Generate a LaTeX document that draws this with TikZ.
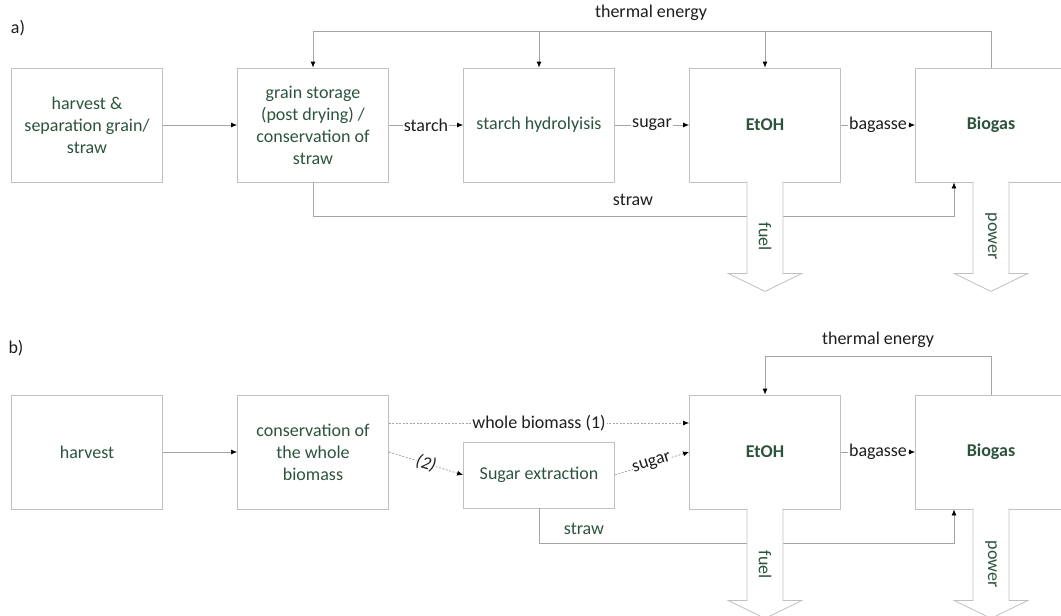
\documentclass[tikz,border=0pt]{standalone}
\usepackage{fontspec}
\setmainfont{Carlito}
\usetikzlibrary{arrows.meta, positioning, calc}
\definecolor{mygreen}{RGB}{44, 84, 60}
\definecolor{mygray}{RGB}{165, 165, 165}
\definecolor{myboxgray}{RGB}{192, 192, 192}
\definecolor{myblack}{RGB}{30, 30, 30}

\begin{document}
\begin{tikzpicture}[x=1pt, y=-1pt,
    font=\fontsize{18}{22}\selectfont,
    box/.style={rectangle, draw=myboxgray, line width=0.8pt, minimum width=151pt, minimum height=114pt, align=center, text=mygreen, inner sep=2pt},
    boldbox/.style={box, font=\fontsize{18}{22}\selectfont\bfseries},
    conn/.style={draw=mygray, line width=0.8pt, -{Latex[length=6pt, width=5pt, black]}},
    dconn/.style={conn, dash pattern=on 2pt off 1.5pt},
    lbl/.style={fill=white, inner sep=1pt, text=myblack},
    bigarrow/.style={draw=myboxgray, fill=white, line width=0.8pt, line join=miter}]
    \useasboundingbox (0,0) rectangle (1061,616);

    % a)
    \node[lbl] (la) at (18, 28) {a)};
    \node[box] (a1) at (87, 125) {harvest \&\\separation grain/\\straw};
    \node[box] (a2) at (313, 125) {grain storage\\(post drying) /\\conservation of\\straw};
    \node[box] (a3) at (539, 125) {starch hydrolyisis};
    \node[boldbox] (a4) at (765, 125) {EtOH};
    \node[boldbox] (a5) at (991, 125) {Biogas};

    \draw[conn] (a1) -- (a2);
    \draw[conn] (a2) -- node[lbl] {starch} (a3);
    \draw[conn] (a3) -- node[lbl] {sugar} (a4);
    \draw[conn] (a4) -- node[lbl] {bagasse} (a5);

    % thermal energy
    \draw[conn] (a5.north) -- ++(0,-36) coordinate (ta) -| (a2.north);
    \draw[conn] (a3.north |- ta) -- (a3.north);
    \draw[conn] (a4.north |- ta) -- (a4.north);
    \node[lbl] (tha) at (651, 13) {thermal energy};

    % straw
    \draw[conn] (a2.south) -- ++(0,34) -| ($(a5.south)+(-37,0)$);
    \node[lbl] (sta) at (633, 200) {straw};

    % fuel / power
    \draw[bigarrow] ($(a4.south)+(-18,-1)$) -- ++(0,92) -- ++(-19,0) -- ++(37,18) -- ++(37,-18) -- ++(-19,0) -- ++(0,-92);
    \draw[bigarrow] ($(a5.south)+(-18,-1)$) -- ++(0,92) -- ++(-19,0) -- ++(37,18) -- ++(37,-18) -- ++(-19,0) -- ++(0,-92);
    \node[text=mygreen, rotate=-90] (fa) at (765, 237) {fuel};
    \node[text=mygreen, rotate=-90] (pa) at (991, 236) {power};

    % b)
    \node[lbl] (lb) at (16, 348) {b)};
    \node[box] (b1) at (87, 452) {harvest};
    \node[box] (b2) at (313, 452) {conservation of\\the whole\\biomass};
    \node[box, minimum height=66pt] (bs) at (539, 475) {Sugar extraction};
    \node[boldbox] (b4) at (765, 452) {EtOH};
    \node[boldbox] (b5) at (991, 452) {Biogas};

    \draw[conn] (b1) -- (b2);
    \draw[dconn] ($(b2.east)+(0,-29)$) -- node[lbl] {whole biomass (1)} ($(b4.west)+(0,-29)$);
    \draw[dconn] (b2.east) -- node[lbl, sloped, inner sep=0pt] {\itshape (2)} (bs.west);
    \draw[dconn] (bs.east) -- node[lbl, sloped, inner sep=0pt] {sugar} (b4.west);
    \draw[conn] (b4) -- node[lbl] {bagasse} (b5);

    % thermal energy
    \draw[conn] (b5.north) -- ++(0,-38) -| (b4.north);
    \node[lbl] (thb) at (878, 340) {thermal energy};

    % straw
    \draw[conn] (bs.south) -- ++(0,35) -| ($(b5.south)+(-37,0)$);
    \node[lbl, text=mygreen] (stb) at (584, 529) {straw};

    % fuel / power
    \draw[bigarrow] ($(b4.south)+(-18,-1)$) -- ++(0,92) -- ++(-19,0) -- ++(37,18) -- ++(37,-18) -- ++(-19,0) -- ++(0,-92);
    \draw[bigarrow] ($(b5.south)+(-18,-1)$) -- ++(0,92) -- ++(-19,0) -- ++(37,18) -- ++(37,-18) -- ++(-19,0) -- ++(0,-92);
    \node[text=mygreen, rotate=-90] (fb) at (765, 565) {fuel};
    \node[text=mygreen, rotate=-90] (pb) at (991, 564) {power};
\end{tikzpicture}
\end{document}
